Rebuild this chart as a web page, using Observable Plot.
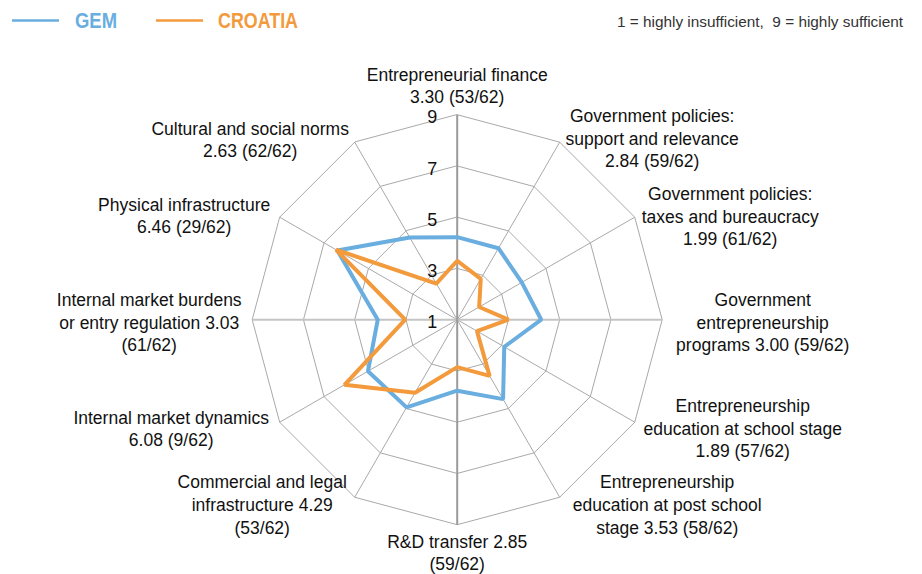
<!DOCTYPE html>
<html>
<head>
<meta charset="utf-8">
<script src="https://cdn.jsdelivr.net/npm/d3@7"></script>
<script src="https://cdn.jsdelivr.net/npm/@observablehq/plot@0.6"></script>
<style>
  html, body { margin: 0; padding: 0; background: #fff; }
  #chart svg { display: block; }
</style>
</head>
<body>
<div id="chart"></div>
<script>
// ---- data ----
const axisLabels = [
  "Entrepreneurial finance\n3.30 (53/62)",
  "Government policies:\nsupport and relevance\n2.84 (59/62)",
  "Government policies:\ntaxes and bureaucracy\n1.99 (61/62)",
  "Government\nentrepreneurship\nprograms 3.00 (59/62)",
  "Entrepreneurship\neducation at school stage\n1.89 (57/62)",
  "Entrepreneurship\neducation at post school\nstage 3.53 (58/62)",
  "R&D transfer 2.85\n(59/62)",
  "Commercial and legal\ninfrastructure 4.29\n(53/62)",
  "Internal market dynamics\n6.08 (9/62)",
  "Internal market burdens\nor entry regulation 3.03\n(61/62)",
  "Physical infrastructure\n6.46 (29/62)",
  "Cultural and social norms\n2.63 (62/62)"
];
const croatia = [3.30, 2.84, 1.99, 3.00, 1.89, 3.53, 2.85, 4.29, 6.08, 3.03, 6.46, 2.63];
const gem     = [4.22, 4.22, 3.91, 4.28, 3.12, 4.58, 3.77, 4.95, 5.02, 4.10, 6.40, 4.70];
const seriesNames = ["GEM", "CROATIA"];
const seriesColors = ["#6aaddf", "#f39a3c"];
const ringLevels = [3, 5, 7, 9];
const tickLabels = [1, 3, 5, 7, 9];
const noteText = "1 = highly insufficient,  9 = highly sufficient";

// ---- layout ----
const W = 922, H = 574;
const CX = 456.7, CY = 319.2, R = 205;   // centre and radius (px) of value 9
const vMin = 1, vMax = 9;
// label block centre offsets from the outer vertex (px)
const labelOffsets = [
  [0, -30], [92.5, -4.5], [95.5, -1.5], [100.5, 2], [108, 5.5], [107.5, 6.5],
  [0, 27], [-92.5, 6.5], [-108.5, 5.5], [-103, 2], [-95.5, -2.5], [-104.5, -3.5]
];

const n = axisLabels.length;
const ang = i => i * 2 * Math.PI / n;
const rad = v => (v - vMin) / (vMax - vMin);
const px = (i, v) => rad(v) * Math.sin(ang(i));
const py = (i, v) => rad(v) * Math.cos(ang(i));

const rings = ringLevels.flatMap(level => axisLabels.map((_, i) => ({level, i})));
const spokes = axisLabels.map((_, i) => i);
const rows = [
  ...gem.map((v, i) => ({series: seriesNames[0], i, v})),
  ...croatia.map((v, i) => ({series: seriesNames[1], i, v}))
];
const labelData = axisLabels.map((t, i) => ({
  t,
  x: px(i, vMax) + labelOffsets[i][0] / R,
  y: py(i, vMax) - labelOffsets[i][1] / R
}));

const font = "'Liberation Sans', Arial, sans-serif";

const chart = Plot.plot({
  width: W,
  height: H,
  margin: 0,
  style: {fontFamily: font, background: "#fff", overflow: "visible"},
  x: {domain: [-CX / R, (W - CX) / R], range: [0, W], axis: null},
  y: {domain: [-(H - CY) / R, CY / R], range: [H, 0], axis: null},
  color: {domain: seriesNames, range: seriesColors},
  marks: [
    Plot.line(rings, {
      x: d => px(d.i, d.level), y: d => py(d.i, d.level), z: "level",
      curve: "linear-closed", stroke: "#a9a9a9", strokeWidth: 1
    }),
    Plot.link(spokes.filter(i => i % 3 !== 0), {
      x1: 0, y1: 0, x2: i => px(i, vMax), y2: i => py(i, vMax),
      stroke: "#a9a9a9", strokeWidth: 1
    }),
    Plot.link(spokes.filter(i => i % 6 === 3), {
      x1: 0, y1: 0, x2: i => px(i, vMax), y2: i => py(i, vMax),
      stroke: "#c4c4c4", strokeWidth: 2
    }),
    Plot.link(spokes.filter(i => i % 6 === 0), {
      x1: 0, y1: 0, x2: i => px(i, vMax), y2: i => py(i, vMax),
      stroke: "#9a9a9a", strokeWidth: 2
    }),
    Plot.line(rows, {
      x: d => px(d.i, d.v), y: d => py(d.i, d.v), z: "series", stroke: "series",
      curve: "linear-closed", strokeWidth: 4, strokeLinejoin: "miter"
    }),
    Plot.text(tickLabels, {
      x: 0, y: d => rad(d), text: d => String(d), textAnchor: "end",
      dx: -20, dy: 3, fontSize: 18, fill: "#111"
    }),
    Plot.text(labelData, {
      x: "x", y: "y", text: "t", textAnchor: "middle", lineAnchor: "middle",
      lineHeight: 1.29, fontSize: 17.5, fill: "#111"
    })
  ]
});

// legend + note drawn into the plot's SVG
const svg = d3.select(chart);
const legendItems = [
  {name: seriesNames[0], color: seriesColors[0], x1: 12, x2: 59, tx: 75, tl: 42},
  {name: seriesNames[1], color: seriesColors[1], x1: 156, x2: 203, tx: 218, tl: 80}
];
const lg = svg.append("g").attr("text-anchor", "start");
legendItems.forEach(it => {
  lg.append("line").attr("x1", it.x1).attr("x2", it.x2).attr("y1", 20.5).attr("y2", 20.5)
    .attr("stroke", it.color).attr("stroke-width", 2.5);
  lg.append("text").attr("x", it.tx).attr("y", 28.3).text(it.name)
    .attr("text-anchor", "start")
    .attr("fill", it.color).attr("font-weight", "bold").attr("font-size", 22)
    .attr("font-family", "'Liberation Sans Narrow', 'Liberation Sans', Arial, sans-serif")
    .attr("textLength", it.tl).attr("lengthAdjust", "spacingAndGlyphs");
});
lg.append("text").attr("x", 617).attr("y", 27).text(noteText)
  .attr("text-anchor", "start")
  .attr("fill", "#333").attr("font-size", 15.5)
  .attr("font-family", "'Liberation Sans Narrow', 'Liberation Sans', Arial, sans-serif")
  .attr("textLength", 286).attr("lengthAdjust", "spacingAndGlyphs")
  .style("white-space", "pre");

document.getElementById("chart").append(chart);
</script>
</body>
</html>
